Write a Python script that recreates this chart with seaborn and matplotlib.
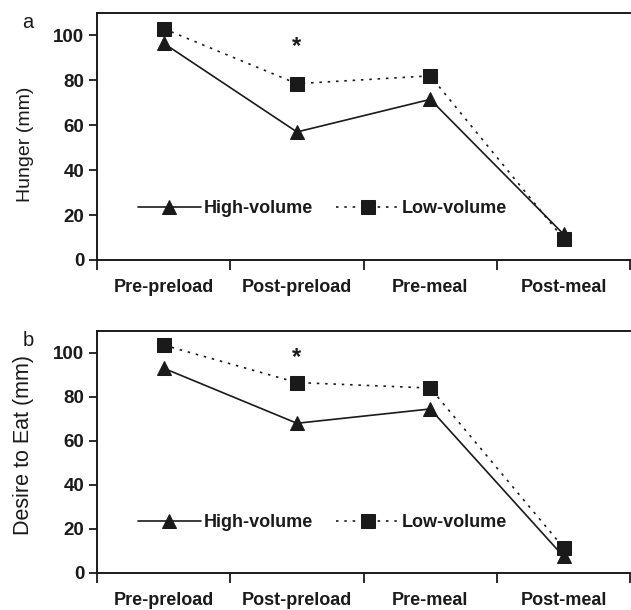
import numpy as np
import pandas as pd
import matplotlib
matplotlib.use("Agg")
import matplotlib.pyplot as plt
import seaborn as sns
from matplotlib.ticker import FixedLocator, NullFormatter, FixedFormatter

sns.set_style("ticks")
plt.rcParams['font.family'] = ['Liberation Sans', 'DejaVu Sans']

timepoints = ['Pre-preload', 'Post-preload', 'Pre-meal', 'Post-meal']
hunger_high = [96.5, 57, 71.5, 11.5]
hunger_low = [103, 78.5, 82, 9.5]
desire_high = [93, 68, 74.5, 7.5]
desire_low = [103.5, 86.5, 84, 11.5]
star_y = [95, 98]

ink = '#1a1a1a'


def make_frame(high, low):
    rows = []
    for i, t in enumerate(timepoints):
        rows.append({'pos': i, 'time': t, 'value': high[i], 'group': 'High-volume'})
        rows.append({'pos': i, 'time': t, 'value': low[i], 'group': 'Low-volume'})
    return pd.DataFrame(rows)


def draw_panel(ax, df, ylabel, letter, sy, lab_size, lab_y):
    sns.lineplot(data=df, x='pos', y='value', hue='group', style='group',
                 palette={'High-volume': ink, 'Low-volume': ink},
                 markers={'High-volume': '^', 'Low-volume': 's'},
                 dashes={'High-volume': '', 'Low-volume': (1.5, 3.5)},
                 markersize=10, markeredgecolor=ink, linewidth=1.2,
                 ax=ax)
    ax.set_xlim(-0.5, 3.5)
    ax.set_ylim(0, 110)
    ax.set_yticks([0, 20, 40, 60, 80, 100])
    ax.xaxis.set_major_locator(FixedLocator([-0.5, 0.5, 1.5, 2.5, 3.5]))
    ax.xaxis.set_major_formatter(NullFormatter())
    ax.xaxis.set_minor_locator(FixedLocator(range(len(timepoints))))
    ax.xaxis.set_minor_formatter(FixedFormatter(timepoints))
    ax.tick_params(axis='x', which='major', direction='out', length=7, width=1.3, color=ink)
    ax.tick_params(axis='x', which='minor', length=0, pad=13.5, labelsize=13)
    ax.tick_params(axis='y', direction='out', length=6, width=1.3, color=ink, labelsize=13.5, pad=3)
    for lab in ax.get_xticklabels(minor=True) + ax.get_yticklabels():
        lab.set_fontweight('bold')
        lab.set_color(ink)
    for s in ax.spines.values():
        s.set_linewidth(1.4)
        s.set_color(ink)
    ax.spines['right'].set_visible(False)
    ax.set_xlabel('')
    ax.set_ylabel(ylabel, fontsize=lab_size, color=ink)
    ax.yaxis.set_label_coords(-0.118, lab_y)
    ax.text(1, sy, '*', ha='center', va='center', fontsize=17, fontweight='bold', color=ink)
    ax.text(-0.14, 1.0, letter, transform=ax.transAxes, fontsize=14.5, color=ink,
            ha='left', va='top')
    leg = ax.legend(loc='center left', bbox_to_anchor=(0.076, 0.208), ncol=2, frameon=False,
                    handlelength=3.5, handletextpad=0.15, columnspacing=1.3,
                    borderaxespad=0, borderpad=0,
                    prop={'weight': 'bold', 'size': 13})
    for t in leg.get_texts():
        t.set_color(ink)


fig = plt.figure(figsize=(6.31, 6.10), dpi=100)
ax1 = fig.add_axes([0.1537, 0.5738, 0.845, 0.405])
ax2 = fig.add_axes([0.1537, 0.0607, 0.845, 0.397])

draw_panel(ax1, make_frame(hunger_high, hunger_low), 'Hunger (mm)', 'a', star_y[0], 14, 0.47)
draw_panel(ax2, make_frame(desire_high, desire_low), 'Desire to Eat (mm)', 'b', star_y[1], 15.5, 0.53)

fig.savefig('out.png', dpi=100)
